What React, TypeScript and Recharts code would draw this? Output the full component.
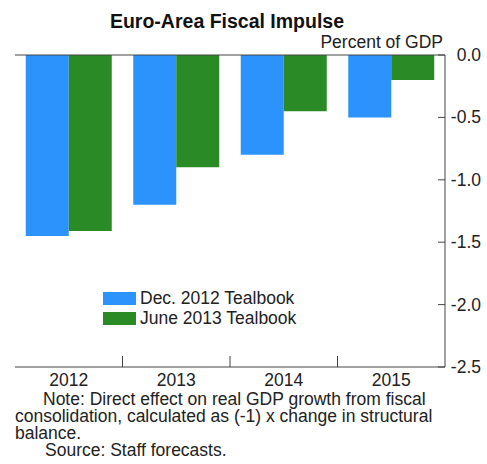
import { Bar, BarChart, Legend, ReferenceLine, XAxis, YAxis } from "recharts";

const years = ["2012", "2013", "2014", "2015"];
const dec2012 = [-1.45, -1.2, -0.8, -0.5];
const june2013 = [-1.41, -0.9, -0.45, -0.2];
const yTicks = [0, -0.5, -1, -1.5, -2, -2.5];

const data = years.map((year, i) => ({ year, dec: dec2012[i], june: june2013[i] }));

const W = 487;
const H = 464;
const LEFT = 15;
const RIGHT = 445;
const BOTTOM = 367;
const BAND = (RIGHT - LEFT) / years.length;
const BLUE = "#2b93fb";
const GREEN = "#298a26";
const INK = "#222";
const FONT = '"Liberation Sans", Arial, Helvetica, sans-serif';
const FS = 17.5;

function RightTick(props: any) {
  const { y, payload } = props;
  return (
    <g>
      <line x1={RIGHT - 7} x2={RIGHT} y1={y} y2={y} stroke="#444" />
      <text x={481} y={y + 6} textAnchor="end" fontSize={FS} fill={INK} fontFamily={FONT}>
        {payload.value.toFixed(1)}
      </text>
    </g>
  );
}

function LeftTick(props: any) {
  const { y } = props;
  return <line x1={LEFT} x2={LEFT + 5} y1={y} y2={y} stroke="#444" />;
}

function XTick(props: any) {
  const { x, payload, index } = props;
  return (
    <g>
      {index < years.length - 1 && (
        <line x1={x + BAND / 2} x2={x + BAND / 2} y1={BOTTOM} y2={BOTTOM - 11} stroke="#444" />
      )}
      <text x={x} y={BOTTOM + 19} textAnchor="middle" fontSize={FS} fill={INK} fontFamily={FONT}>
        {payload.value}
      </text>
    </g>
  );
}

function LegendBox() {
  const items = [
    { label: "Dec. 2012 Tealbook", color: BLUE },
    { label: "June 2013 Tealbook", color: GREEN },
  ];
  return (
    <div style={{ fontFamily: FONT, fontSize: FS, color: INK }}>
      {items.map((it) => (
        <div key={it.label} style={{ display: "flex", alignItems: "center", height: 20 }}>
          <span style={{ width: 33, height: 13, background: it.color, marginRight: 4 }} />
          <span>{it.label}</span>
        </div>
      ))}
    </div>
  );
}

export default function App() {
  const line = { position: "absolute" as const, fontSize: FS, color: INK, whiteSpace: "pre" as const, lineHeight: "17px" };
  return (
    <div style={{ position: "absolute", left: 0, top: 0, width: W, height: H, background: "#fff", fontFamily: FONT }}>
      <div style={{ position: "absolute", left: 0, width: 454, top: 9, lineHeight: "24px", textAlign: "center", fontWeight: "bold", fontSize: 19.5, color: "#111" }}>
        Euro-Area Fiscal Impulse
      </div>
      <div style={{ ...line, right: W - 443, top: 34 }}>Percent of GDP</div>
      <BarChart
        width={W}
        height={H}
        data={data}
        margin={{ top: 55, right: 0, left: LEFT, bottom: H - BOTTOM - 30 }}
        barCategoryGap="10%"
        barGap={0}
      >
        <XAxis dataKey="year" height={30} tickLine={false} tick={<XTick />} axisLine={{ stroke: "#444" }} interval={0} />
        <YAxis
          yAxisId="r"
          orientation="right"
          width={W - RIGHT}
          domain={[-2.5, 0]}
          ticks={yTicks}
          tickLine={false}
          tick={<RightTick />}
          axisLine={{ stroke: "#444" }}
        />
        <YAxis
          yAxisId="l"
          orientation="left"
          width={0}
          domain={[-2.5, 0]}
          ticks={yTicks}
          tickLine={false}
          tick={<LeftTick />}
          axisLine={{ stroke: "#444" }}
        />
        <ReferenceLine yAxisId="r" y={0} stroke="#444" />
        <Legend
          layout="vertical"
          align="center"
          verticalAlign="middle"
          content={<LegendBox />}
          wrapperStyle={{ position: "absolute", left: 103, top: 288, width: "auto", bottom: "auto" }}
        />
        <Bar yAxisId="r" dataKey="dec" name="Dec. 2012 Tealbook" fill={BLUE} isAnimationActive={false} />
        <Bar yAxisId="r" dataKey="june" name="June 2013 Tealbook" fill={GREEN} isAnimationActive={false} />
      </BarChart>
      <div style={{ ...line, left: 43, top: 391 }}>Note: Direct effect on real GDP growth from fiscal</div>
      <div style={{ ...line, left: 15, top: 408 }}>consolidation, calculated as (-1) x change in structural</div>
      <div style={{ ...line, left: 15, top: 425 }}>balance.</div>
      <div style={{ ...line, left: 45, top: 442 }}>Source: Staff forecasts.</div>
    </div>
  );
}
